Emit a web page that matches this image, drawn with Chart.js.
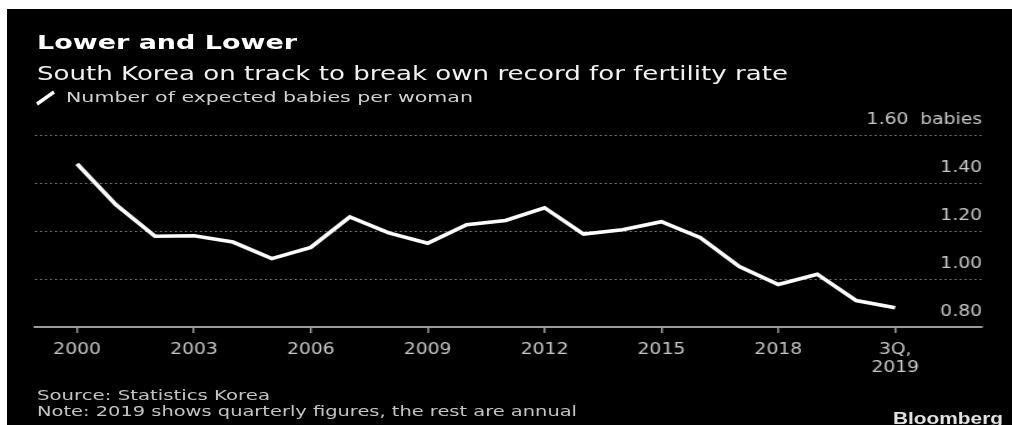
<!DOCTYPE html>
<html>
<head>
<meta charset="utf-8">
<script src="https://cdn.jsdelivr.net/npm/chart.js@4.4.1/dist/chart.umd.min.js"></script>
<style>
  html, body { margin: 0; padding: 0; background: #fff; width: 1012px; height: 425px; overflow: hidden; }
  #frame { position: absolute; left: 7px; top: 9px; width: 1005px; height: 416px; background: #000; }
  #plot { position: absolute; left: 0; top: 0; width: 810px; height: 425px; transform: scaleX(1.2494); transform-origin: 0 0; }
  .fit { position: absolute; white-space: pre; line-height: 1; transform-origin: 0 0; font-family: "DejaVu Sans", sans-serif; }
  #title { left: 37px; top: 32.8px; font-size: 19.5px; font-weight: bold; color: #fff; }
  #subtitle { left: 37px; top: 64.2px; font-size: 19.8px; color: #f2f2f2; }
  #legendText { left: 66px; top: 90.4px; font-size: 14.6px; color: #d2d2d2; }
  #source { left: 37px; top: 388.3px; font-size: 14.6px; color: #c4c4c4; }
  #note { left: 37px; top: 404.3px; font-size: 14.6px; color: #c4c4c4; }
  #brand { left: 893px; top: 409.5px; font-size: 16.5px; font-weight: bold; color: #e2e2e2; font-family: "Liberation Sans", Arial, sans-serif; }
  #legendIcon { position: absolute; left: 35px; top: 90px; }
</style>
</head>
<body>
<div id="frame"></div>
<div id="plot"><canvas id="chart"></canvas></div>

<div id="title" class="fit" data-w="260">Lower and Lower</div>
<div id="subtitle" class="fit" data-w="751">South Korea on track to break own record for fertility rate</div>
<svg id="legendIcon" width="22" height="16"><line x1="2" y1="14" x2="19" y2="2" stroke="#fff" stroke-width="3.4"/></svg>
<div id="legendText" class="fit" data-w="407">Number of expected babies per woman</div>
<div id="source" class="fit" data-w="233">Source: Statistics Korea</div>
<div id="note" class="fit" data-w="540">Note: 2019 shows quarterly figures, the rest are annual</div>
<div id="brand" class="fit" data-w="110">Bloomberg</div>

<script>
// Annual total fertility rate 2000-2018, then 2019 by quarter
const categories = [
  '2000', '2001', '2002', '2003', '2004', '2005', '2006', '2007', '2008', '2009',
  '2010', '2011', '2012', '2013', '2014', '2015', '2016', '2017', '2018',
  '1Q 2019', '2Q 2019', '3Q 2019'
];
const babiesPerWoman = [
  1.480, 1.309, 1.178, 1.180, 1.154, 1.085, 1.132, 1.259, 1.192, 1.149,
  1.226, 1.244, 1.297, 1.187, 1.205, 1.239, 1.172, 1.052, 0.977,
  1.02, 0.91, 0.88
];
// x-axis labels, keyed by category
const xTickLabels = {
  '2000': '2000', '2003': '2003', '2006': '2006', '2009': '2009',
  '2012': '2012', '2015': '2015', '2018': '2018', '3Q 2019': ['3Q,', '2019']
};
const yTickValues = [0.80, 1.00, 1.20, 1.40, 1.60];
const yUnit = 'babies';

Chart.defaults.font.family = '"DejaVu Sans", sans-serif';

const yMin = yTickValues[0];
const yMax = yTickValues[yTickValues.length - 1];

new Chart(document.getElementById('chart'), {
  type: 'line',
  data: {
    datasets: [{
      label: 'Number of expected babies per woman',
      data: babiesPerWoman.map((v, i) => ({ x: i, y: v })),
      borderColor: '#ffffff',
      borderWidth: 3.6,
      pointRadius: 0,
      tension: 0,
      fill: false
    }]
  },
  options: {
    responsive: true,
    maintainAspectRatio: false,
    animation: false,
    events: [],
    layout: { padding: { left: 28, right: 24, top: 135, bottom: 0 } },
    plugins: { legend: { display: false }, tooltip: { enabled: false } },
    scales: {
      x: {
        type: 'linear',
        position: 'bottom',
        min: -1.08,
        max: categories.length - 1 + 2.23,
        afterBuildTicks: (scale) => {
          scale.ticks = categories
            .map((c, i) => ({ value: i, key: c }))
            .filter(t => t.key in xTickLabels)
            .map(t => ({ value: t.value }));
        },
        afterFit: (scale) => { scale.height = 98; },
        ticks: {
          autoSkip: false,
          maxRotation: 0,
          color: '#c8c8c8',
          font: { size: 15, lineHeight: 1.22 },
          padding: 7.5,
          callback: (value) => xTickLabels[categories[value]]
        },
        grid: {
          drawOnChartArea: false,
          drawTicks: true,
          tickLength: 6,
          color: '#9a9a9a',
          lineWidth: 1.5
        },
        border: { display: true, color: '#9a9a9a', width: 2 }
      },
      y: {
        type: 'linear',
        position: 'right',
        min: yMin,
        max: yMax,
        afterBuildTicks: (scale) => {
          scale.ticks = yTickValues.map(v => ({ value: v }));
        },
        afterFit: (scale) => { scale.width = 0; },
        ticks: {
          mirror: true,
          padding: 0,
          labelOffset: -15,
          color: '#c8c8c8',
          font: { size: 15 },
          callback: (value) => value === yMax
            ? value.toFixed(2) + '\u00a0\u00a0' + yUnit
            : value.toFixed(2)
        },
        grid: {
          drawTicks: false,
          lineWidth: 1,
          color: (ctx) => (ctx.tick && ctx.tick.value === yMin) ? 'rgba(0,0,0,0)' : '#7c7c7c'
        },
        border: { display: false, dash: [1.6, 2.4] }
      }
    }
  }
});

// Stretch each text line to its set width
document.fonts.ready.then(() => {
  document.querySelectorAll('.fit').forEach(el => {
    const w = el.getBoundingClientRect().width;
    if (w > 0) el.style.transform = 'scaleX(' + (parseFloat(el.dataset.w) / w) + ')';
  });
});
</script>
</body>
</html>
